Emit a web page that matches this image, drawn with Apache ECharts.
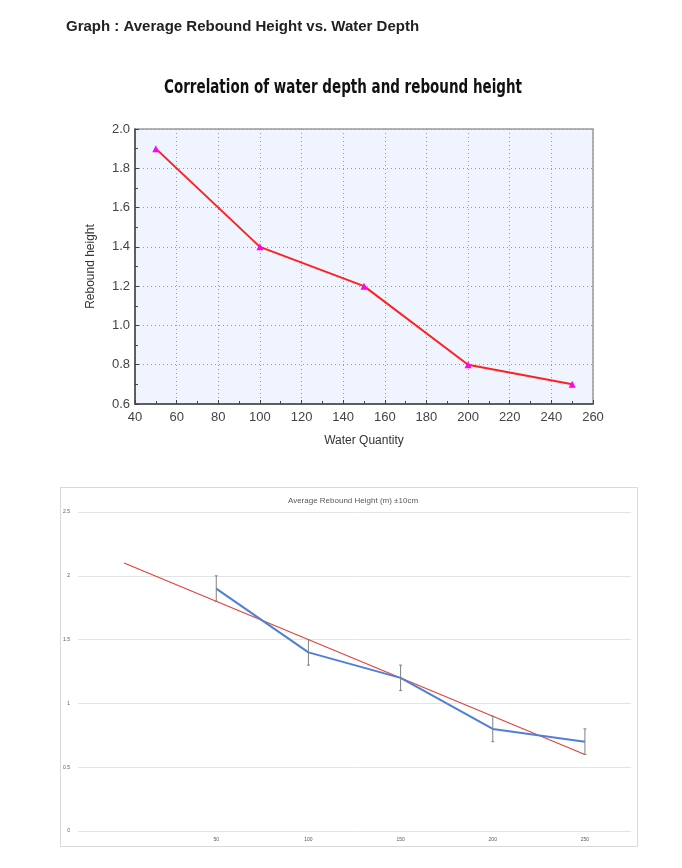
<!DOCTYPE html>
<html>
<head>
<meta charset="UTF-8">
<title>Average Rebound Height vs. Water Depth</title>
<script type="text/javascript" src="https://cdn.jsdelivr.net/npm/echarts@6/dist/echarts.min.js"></script>
<style type="text/css">
body { margin: 0; background: #fff; }
#main { width: 682px; height: 868px; }
</style>
</head>
<body>
<div id="main"></div>
<script>
// values
var depth = [50, 100, 150, 200, 250];
var rebound = [1.9, 1.4, 1.2, 0.8, 0.7];
var errSize = [0.1, 0.1, 0.1, 0.1, 0.1];
// excel chart: first category is blank, trend line drawn from it to the last one
var excelCats = ['', '50', '100', '150', '200', '250'];
var trendEnds = [2.1, 0.6];

var chart = echarts.init(document.getElementById('main'));

var topPts = [];
for (var i = 0; i < depth.length; i++) {
	topPts.push([depth[i], rebound[i]]);
}
var blueLine = [null].concat(rebound);
var trendLine = [trendEnds[0]];
for (var i = 1; i < excelCats.length - 1; i++) trendLine.push(null);
trendLine.push(trendEnds[1]);
var errData = [];
for (var i = 0; i < rebound.length; i++) {
	errData.push([i + 1, rebound[i] - errSize[i], rebound[i] + errSize[i]]);
}

var tinyLabel = { fontSize: 5, color: '#595959', fontFamily: 'Liberation Sans' };

option = {
	animation: false,
	title: [
		{
			text: 'Graph : Average Rebound Height vs. Water Depth',
			left: 61, top: 14,
			textStyle: { fontSize: 15, fontWeight: 'bold', color: '#222', fontFamily: 'Liberation Sans' }
		},
		{
			text: 'Average Rebound Height (m) ±10cm',
			left: 348, top: 492, textAlign: 'center',
			textStyle: { fontSize: 8, fontWeight: 'normal', color: '#595959', fontFamily: 'Liberation Sans' }
		}
	],
	graphic: [
		{
			// condensed heavy title (squeezed horizontally)
			type: 'text', x: 343, y: 88, scaleX: 0.71,
			style: {
				text: 'Correlation of water depth and rebound height',
				font: 'bold 19px "DejaVu Sans"', fill: '#111',
				align: 'center', verticalAlign: 'middle'
			}
		},
		{
			type: 'rect', left: 60, top: 487, z: -1,
			shape: { width: 577, height: 359 },
			style: { fill: '#fff', stroke: '#d9d9d9', lineWidth: 1 }
		}
	],
	grid: [
		{ left: 135, top: 129, width: 458, height: 275, show: true, backgroundColor: '#eff4fe', borderColor: '#999', borderWidth: 1.5 },
		{ left: 78, top: 512, width: 553, height: 319 }
	],
	xAxis: [
		{
			gridIndex: 0, type: 'value', min: 40, max: 260, interval: 20,
			name: 'Water Quantity', nameLocation: 'middle', nameGap: 31,
			nameTextStyle: { fontSize: 12, color: '#333', fontFamily: 'Liberation Sans' },
			axisLine: { lineStyle: { color: '#444', width: 1.5 } },
			axisTick: { show: true, inside: true, length: 4, lineStyle: { color: '#444' } },
			minorTick: { show: true, splitNumber: 2, length: 3, lineStyle: { color: '#444' } },
			axisLabel: { fontSize: 13, color: '#444', margin: 7, fontFamily: 'Liberation Sans' },
			splitLine: { show: true, lineStyle: { color: '#999', type: [1, 3] } }
		},
		{
			gridIndex: 1, type: 'category', data: excelCats, boundaryGap: true,
			axisLine: { show: false },
			axisTick: { show: false },
			axisLabel: Object.assign({ margin: 6 }, tinyLabel)
		}
	],
	yAxis: [
		{
			gridIndex: 0, type: 'value', min: 0.6, max: 2.0, interval: 0.2,
			name: 'Rebound height', nameLocation: 'middle', nameGap: 38, nameRotate: 90,
			nameTextStyle: { fontSize: 12, color: '#333', fontFamily: 'Liberation Sans' },
			axisLine: { show: true, lineStyle: { color: '#444', width: 1.5 } },
			axisTick: { show: true, inside: true, length: 4, lineStyle: { color: '#444' } },
			minorTick: { show: true, splitNumber: 2, length: 3, lineStyle: { color: '#444' } },
			axisLabel: {
				fontSize: 13, color: '#444', margin: 5, fontFamily: 'Liberation Sans',
				formatter: function (v) { return v.toFixed(1); }
			},
			splitLine: { show: true, lineStyle: { color: '#999', type: [1, 3] } }
		},
		{
			gridIndex: 1, type: 'value', min: 0, max: 2.5, interval: 0.5,
			axisLine: { show: false },
			axisTick: { show: false },
			axisLabel: Object.assign({ margin: 8 }, tinyLabel),
			splitLine: { show: true, lineStyle: { color: '#e4e4e4', width: 1 } }
		}
	],
	series: [
		{
			type: 'line', xAxisIndex: 0, yAxisIndex: 0,
			data: topPts,
			symbol: 'triangle', symbolSize: 7,
			itemStyle: { color: '#ff00ff' },
			lineStyle: { color: '#ff2020', width: 2 }
		},
		{
			type: 'line', xAxisIndex: 1, yAxisIndex: 1,
			data: trendLine, connectNulls: true,
			symbol: 'none',
			lineStyle: { color: '#e0433c', width: 1.2 }
		},
		{
			type: 'line', xAxisIndex: 1, yAxisIndex: 1,
			data: blueLine,
			symbol: 'none',
			lineStyle: { color: '#4f7fd6', width: 2 }
		},
		{
			type: 'custom', xAxisIndex: 1, yAxisIndex: 1,
			data: errData, z: 5,
			renderItem: function (params, api) {
				var lo = api.coord([api.value(0), api.value(1)]);
				var hi = api.coord([api.value(0), api.value(2)]);
				var c = 1.5;
				var st = { stroke: '#808080', lineWidth: 1 };
				return {
					type: 'group',
					children: [
						{ type: 'line', shape: { x1: hi[0], y1: hi[1], x2: lo[0], y2: lo[1] }, style: st },
						{ type: 'line', shape: { x1: hi[0] - c, y1: hi[1], x2: hi[0] + c, y2: hi[1] }, style: st },
						{ type: 'line', shape: { x1: lo[0] - c, y1: lo[1], x2: lo[0] + c, y2: lo[1] }, style: st }
					]
				};
			}
		}
	]
};
chart.setOption(option);
</script>
</body>
</html>
